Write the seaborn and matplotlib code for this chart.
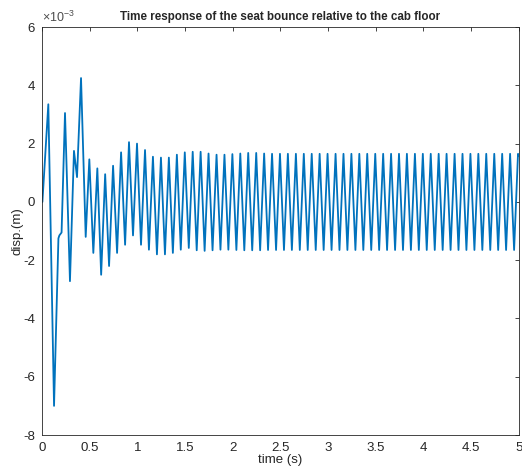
import numpy as np
import pandas as pd
import matplotlib
matplotlib.use("Agg")
import matplotlib.pyplot as plt
from matplotlib.ticker import FuncFormatter
import seaborn as sns

# --- data (displacement in units of 1e-3 m) ---
transient_t = [0.0, 0.004, 0.066, 0.126, 0.172, 0.182, 0.205, 0.241, 0.293, 0.335,
               0.367, 0.409, 0.458, 0.496, 0.538, 0.580, 0.620, 0.662, 0.703, 0.745,
               0.787, 0.829, 0.871, 0.912, 0.954, 0.996, 1.038, 1.080, 1.121, 1.163,
               1.205, 1.247, 1.289, 1.330, 1.372, 1.414, 1.455, 1.497, 1.539]
transient_v = [0.0, 0.0, 3.35, -7.0, -1.25, -1.15, -1.05, 3.05, -2.72, 1.75,
               0.85, 4.25, -1.2, 1.46, -1.75, 1.15, -2.5, 0.95, -2.2, 1.24,
               -1.75, 1.70, -1.47, 2.05, -1.15, 2.0, -1.47, 1.78, -1.64, 1.55,
               -1.8, 1.52, -1.8, 1.52, -1.75, 1.62, -1.64, 1.70, -1.58]

steady_t = [1.580, 1.622, 1.663, 1.705, 1.746, 1.788, 1.830, 1.871, 1.913, 1.954,
            1.996, 2.038, 2.079, 2.121, 2.162, 2.204, 2.246, 2.287, 2.329, 2.370,
            2.412, 2.454, 2.495, 2.537, 2.578, 2.620, 2.662, 2.703, 2.745, 2.786,
            2.828, 2.870, 2.911, 2.953, 2.994, 3.036, 3.078, 3.119, 3.161, 3.202,
            3.244, 3.286, 3.327, 3.369, 3.410, 3.452, 3.494, 3.535, 3.577, 3.618,
            3.660, 3.702, 3.743, 3.785, 3.826, 3.868, 3.910, 3.951, 3.993, 4.034,
            4.076, 4.118, 4.159, 4.201, 4.242, 4.284, 4.326, 4.367, 4.409, 4.450,
            4.492, 4.534, 4.575, 4.617, 4.658, 4.700, 4.742, 4.783, 4.825, 4.866,
            4.908, 4.950, 4.991, 5.000]
steady_v = [1.72, -1.66, 1.72, -1.68, 1.66, -1.66, 1.62, -1.64, 1.62, -1.64,
            1.64, -1.65, 1.66, -1.66, 1.68, -1.66, 1.68, -1.66, 1.66, -1.65,
            1.65, -1.65, 1.65, -1.65, 1.65, -1.65, 1.65, -1.65, 1.65, -1.65,
            1.65, -1.65, 1.65, -1.65, 1.65, -1.65, 1.65, -1.65, 1.65, -1.65,
            1.65, -1.65, 1.65, -1.65, 1.65, -1.65, 1.65, -1.65, 1.65, -1.65,
            1.65, -1.65, 1.65, -1.65, 1.65, -1.65, 1.65, -1.65, 1.65, -1.65,
            1.65, -1.65, 1.65, -1.65, 1.65, -1.65, 1.65, -1.65, 1.65, -1.65,
            1.65, -1.65, 1.65, -1.65, 1.65, -1.65, 1.65, -1.65, 1.65, -1.65,
            1.65, -1.65, 1.65, 1.58]

x_ticks = [0, 0.5, 1, 1.5, 2, 2.5, 3, 3.5, 4, 4.5, 5]
y_ticks = [-8, -6, -4, -2, 0, 2, 4, 6]   # in units of 1e-3 m

title = "Time response of the seat bounce relative to the cab floor"
xlabel = "time (s)"
ylabel = "disp.(m)"
offset_label = r"$\times$10$^{-3}$"

df = pd.DataFrame({
    "t": transient_t + steady_t,
    "disp": [v * 1e-3 for v in transient_v + steady_v],
})

sns.set_style("white")
plt.rcParams["font.family"] = ["Liberation Sans", "DejaVu Sans"]
plt.rcParams["axes.unicode_minus"] = False
plt.rcParams["mathtext.fontset"] = "custom"
plt.rcParams["mathtext.rm"] = "Liberation Sans"
plt.rcParams["mathtext.default"] = "regular"

fig = plt.figure(figsize=(5.22, 4.75), dpi=100)
ax = fig.add_axes([0.0805, 0.0842, 0.9135, 0.8588])

sns.lineplot(data=df, x="t", y="disp", ax=ax, color="#0072BD",
             linewidth=1.3, estimator=None, sort=False,
             solid_joinstyle="round")

ax.set_xlim(0, 5)
ax.set_ylim(-8e-3, 6e-3)
ax.set_xticks(x_ticks)
ax.set_yticks([v * 1e-3 for v in y_ticks])
ax.xaxis.set_major_formatter(FuncFormatter(lambda v, p: "%g" % v))
ax.yaxis.set_major_formatter(FuncFormatter(lambda v, p: "%g" % round(v * 1e3, 6)))
ax.text(0.0, 1.005, offset_label, transform=ax.transAxes, fontsize=9,
        color="#4d4d4d", ha="left", va="bottom")

for s in ax.spines.values():
    s.set_color("#262626")
    s.set_linewidth(0.6)
ax.tick_params(direction="in", top=True, right=True, length=3, width=0.6,
               labelsize=9.5, colors="#262626")
ax.tick_params(axis="x", pad=5)
ax.tick_params(axis="y", pad=5)
for lbl in ax.get_xticklabels() + ax.get_yticklabels():
    lbl.set_color("#262626")

ax.set_title(title, fontsize=8.4, fontweight="bold", pad=5)
ax.set_xlabel(xlabel, fontsize=9.5, color="#262626", labelpad=0)
ax.set_ylabel(ylabel, fontsize=9.5, color="#262626", labelpad=0)

fig.savefig("out.png", dpi=100)
